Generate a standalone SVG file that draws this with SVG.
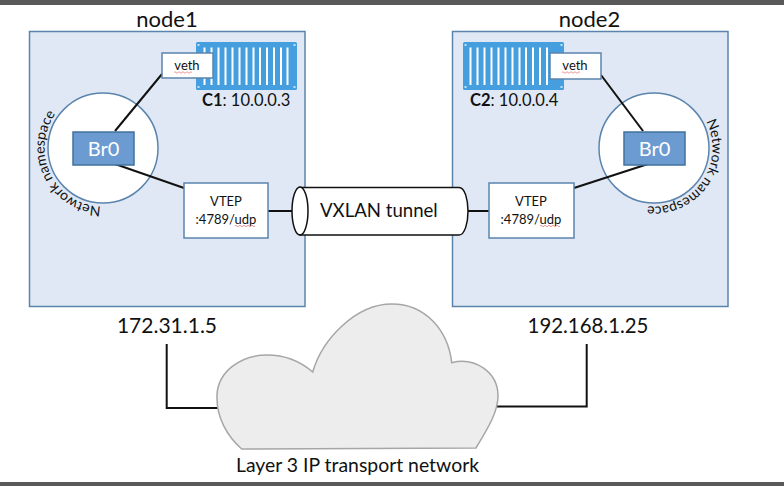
<svg xmlns="http://www.w3.org/2000/svg" xmlns:xlink="http://www.w3.org/1999/xlink" width="784" height="486" viewBox="0 0 784 486">
<style>
text{font-family:"Lato","Open Sans","Liberation Sans",sans-serif;fill:#111}
.host{fill:#dfe8f4;stroke:#5b84ad;stroke-width:1.5}
.ns{fill:#fff;stroke:#5b84ad;stroke-width:1.5}
.br{fill:#6b9bd1;stroke:#41719c;stroke-width:1.5}
.box{fill:#fff;stroke:#5b84ad;stroke-width:1.5}
.wire{fill:none;stroke:#111;stroke-width:2}
.ship{fill:#459fdf}
.slats{stroke:#fff;stroke-width:2;fill:none}
.dot{fill:#bfe0f7}
.sq{fill:none;stroke:#e98a8a;stroke-width:.9}
.t20{font-size:20px;text-anchor:middle}
.t22{font-size:22px;text-anchor:middle}
.t13{font-size:13px;text-anchor:middle}
.arc{font-size:14px}
</style>
<rect width="784" height="486" fill="#fff"/>
<rect width="784" height="5" fill="#595959"/>
<rect y="482" width="784" height="4" fill="#595959"/>

<g id="node1">
<rect class="host" x="29.5" y="31.5" width="275.5" height="275"/>
<text class="t22" x="167" y="27">node1</text>
<text class="t20" x="167" y="333" style="font-size:21px">172.31.1.5</text>
</g>
<g id="node2">
<rect class="host" x="452.5" y="31.5" width="275.5" height="275"/>
<text class="t22" x="589.500" y="27">node2</text>
<text class="t20" x="588" y="333" style="font-size:20.400px">192.168.1.25</text>
</g>

<g id="ns1">
<circle class="ns" cx="103" cy="148" r="55"/>
<path id="arc1" d="M103 206.500A58.500 58.500 0 1 1 103 89.500" fill="none"/>
<text class="arc"><textPath xlink:href="#arc1" href="#arc1" startOffset="2">Network namespace</textPath></text>
</g>
<g id="ns2">
<circle class="ns" cx="654" cy="148" r="55"/>
<path id="arc2" d="M654 89.500A58.500 58.500 0 1 1 654 206.500A58.500 58.500 0 0 1 595.500 148" fill="none"/>
<text class="arc"><textPath xlink:href="#arc2" href="#arc2" startOffset="64">Network namespace</textPath></text>
</g>

<g id="connectors">
<path class="wire" d="M115 131L162 74"/>
<path class="wire" d="M115 164L184 188"/>
<path class="wire" d="M268 211H293"/>
<path class="wire" d="M643 131L601 75"/>
<path class="wire" d="M648 164L574 188"/>
<path class="wire" d="M468 211H489"/>
<path class="wire" d="M166.700 344V408H218"/>
<path class="wire" d="M586.700 344V406.500H497"/>
</g>

<g id="c1">
<rect class="ship" x="196" y="42" width="101" height="48" rx="1.500"/>
<path class="slats" d="M204.500 47.500V85M211.500 47.500V85M218.500 47.500V85M225.500 47.500V85M232.500 47.500V85M239.500 47.500V85M246.500 47.500V85M253.500 47.500V85M260 47.500V85M267 47.500V85M274 47.500V85M281 47.500V85M287.500 47.500V85"/>
<path class="dot" d="M197.500 44h2v2h-2zM293.500 44h2v2h-2zM197.500 86h2v2h-2zM293.500 86h2v2h-2z"/>
<text x="202" y="106" font-size="16.500"><tspan font-weight="700">C1</tspan>: 10.0.0.3</text>
</g>
<g id="c2">
<rect class="ship" x="463" y="42" width="101" height="48" rx="1.500"/>
<path class="slats" d="M470.500 47.500V85M477.500 47.500V85M484.500 47.500V85M491.500 47.500V85M498.500 47.500V85M505.500 47.500V85M512.500 47.500V85M519.500 47.500V85M526 47.500V85M533 47.500V85M540 47.500V85M547 47.500V85"/>
<path class="dot" d="M464.500 44h2v2h-2zM560.500 44h2v2h-2zM464.500 86h2v2h-2zM560.500 86h2v2h-2z"/>
<text x="470" y="106" font-size="16.500"><tspan font-weight="700">C2</tspan>: 10.0.0.4</text>
</g>

<g id="veth1">
<rect class="box" x="162" y="53" width="51" height="25"/>
<text class="t13" x="187" y="70">veth</text>
<path class="sq" d="M174 72.500q1-1.500 2 0t2 0t2 0t2 0t2 0t2 0t2 0t2 0t2 0"/>
</g>
<g id="veth2">
<rect class="box" x="550" y="53" width="51" height="26"/>
<text class="t13" x="575" y="70">veth</text>
<path class="sq" d="M562 72.500q1-1.500 2 0t2 0t2 0t2 0t2 0t2 0t2 0t2 0t2 0"/>
</g>
<g id="br1">
<rect class="br" x="73" y="132" width="61" height="33"/>
<text class="t20" x="103.500" y="156" style="fill:#fff">Br0</text>
</g>
<g id="br2">
<rect class="br" x="624" y="132" width="61" height="33"/>
<text class="t20" x="654.500" y="156" style="fill:#fff">Br0</text>
</g>
<g id="vtep1">
<rect class="box" x="184" y="183" width="84" height="55"/>
<text class="t13" x="226" y="206">VTEP</text>
<text class="t13" x="226" y="224">:4789/udp</text>
<path class="sq" d="M235 226q1-1.500 2 0t2 0t2 0t2 0t2 0t2 0t2 0t2 0t2 0t2 0"/>
</g>
<g id="vtep2">
<rect class="box" x="489" y="183" width="85" height="55"/>
<text class="t13" x="531" y="206">VTEP</text>
<text class="t13" x="531" y="224">:4789/udp</text>
<path class="sq" d="M540 226q1-1.500 2 0t2 0t2 0t2 0t2 0t2 0t2 0t2 0t2 0t2 0"/>
</g>

<g id="tunnel">
<path d="M300 187.500H459C465 187.500 468 200 468 211S465 235 459 235H300Z" fill="#fff" stroke="#111" stroke-width="1.500"/>
<ellipse cx="300" cy="211" rx="8" ry="24" fill="#fff" stroke="#111" stroke-width="1.500"/>
<text x="320" y="217" font-size="18.600">VXLAN tunnel</text>
</g>

<g id="cloud">
<path d="M241.700 449C228 437 216 418 217 395C218 372 240 355 267 355C285 355 300 361 312.700 372C322 340 355 304 392 304C425 304 448 330 451.700 362.700C475 357 498 372 498 396C498 412 488 428 476 448Z" fill="#ededed" stroke="#a6a6a6" stroke-width="1.500"/>
<text x="357.500" y="472" font-size="19.400" text-anchor="middle">Layer 3 IP transport network</text>
</g>
</svg>
